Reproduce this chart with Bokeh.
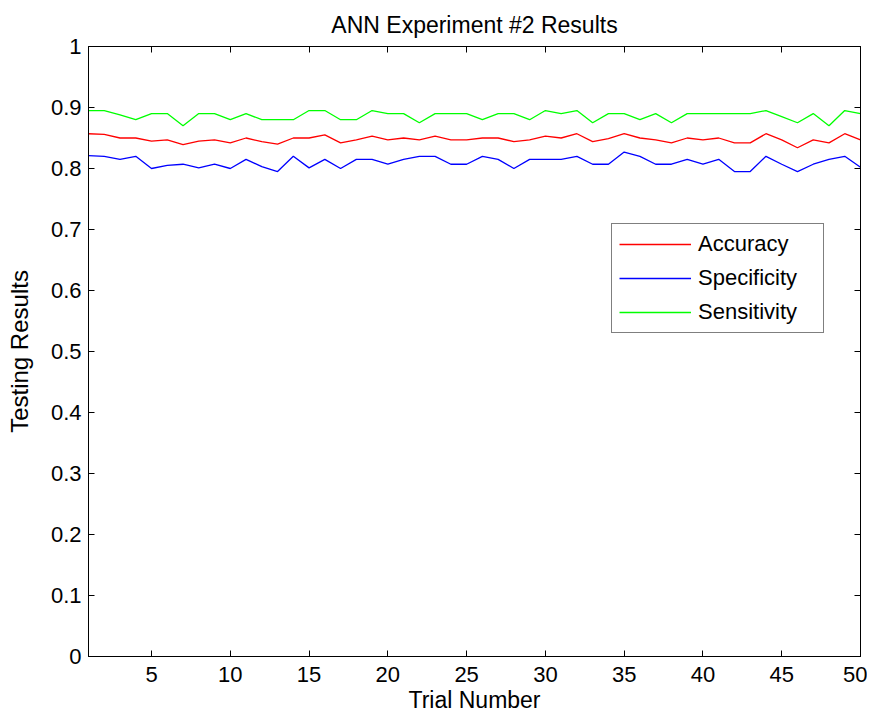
from bokeh.plotting import figure
from bokeh.models import LinearAxis, FixedTicker, Range1d, Legend, LegendItem
from bokeh.embed import file_html
from bokeh.resources import INLINE

trials = list(range(1, 51))
accuracy = [0.857, 0.856, 0.850, 0.850, 0.845, 0.847, 0.839, 0.845, 0.847, 0.842,
            0.850, 0.844, 0.840, 0.850, 0.850, 0.855, 0.842, 0.847, 0.853, 0.847,
            0.850, 0.847, 0.853, 0.847, 0.847, 0.850, 0.850, 0.844, 0.847, 0.853,
            0.850, 0.857, 0.844, 0.849, 0.857, 0.850, 0.847, 0.842, 0.850, 0.847,
            0.850, 0.842, 0.842, 0.857, 0.847, 0.834, 0.847, 0.842, 0.857, 0.847]
specificity = [0.821, 0.820, 0.815, 0.820, 0.800, 0.805, 0.807, 0.801, 0.807, 0.800,
               0.815, 0.803, 0.795, 0.820, 0.801, 0.815, 0.800, 0.815, 0.815, 0.807,
               0.815, 0.820, 0.820, 0.807, 0.807, 0.820, 0.815, 0.800, 0.815, 0.815,
               0.815, 0.820, 0.807, 0.807, 0.827, 0.820, 0.807, 0.807, 0.815, 0.807,
               0.815, 0.795, 0.795, 0.820, 0.807, 0.795, 0.807, 0.815, 0.820, 0.802]
sensitivity = [0.895, 0.895, 0.888, 0.880, 0.890, 0.890, 0.870, 0.890, 0.890, 0.880,
               0.890, 0.880, 0.880, 0.880, 0.895, 0.895, 0.880, 0.880, 0.895, 0.890,
               0.890, 0.875, 0.890, 0.890, 0.890, 0.880, 0.890, 0.890, 0.880, 0.895,
               0.890, 0.895, 0.875, 0.890, 0.890, 0.880, 0.890, 0.875, 0.890, 0.890,
               0.890, 0.890, 0.890, 0.895, 0.885, 0.875, 0.890, 0.870, 0.895, 0.890]

series_names = ["Accuracy", "Specificity", "Sensitivity"]
series_colors = ["#ff0000", "#0000ff", "#00ff00"]

x_ticks = [5, 10, 15, 20, 25, 30, 35, 40, 45, 50]
y_ticks = [0, 0.1, 0.2, 0.3, 0.4, 0.5, 0.6, 0.7, 0.8, 0.9, 1]
y_tick_labels = ["0", "0.1", "0.2", "0.3", "0.4", "0.5", "0.6", "0.7", "0.8", "0.9", "1"]

FONT = "Liberation Sans"

p = figure(width=867, height=717, output_backend="svg", toolbar_location=None,
           x_range=Range1d(1, 50), y_range=Range1d(0, 1),
           min_border_left=88, min_border_right=7, min_border_top=46, min_border_bottom=61,
           title="ANN Experiment #2 Results")
p.background_fill_color = "white"
p.border_fill_color = "white"
p.outline_line_color = "black"
p.grid.visible = False

p.title.align = "center"
p.title.text_font = FONT
p.title.text_font_size = "23px"
p.title.text_font_style = "normal"
p.title.text_color = "black"
p.title.standoff = 18

def style_axis(ax, ticks, show_labels):
    ax.ticker = FixedTicker(ticks=ticks)
    ax.major_tick_in = 6
    ax.major_tick_out = 0
    ax.minor_tick_line_color = None
    ax.axis_line_color = "black"
    ax.major_tick_line_color = "black"
    ax.major_label_text_font = FONT
    ax.major_label_text_color = "black"
    ax.axis_label_text_font = FONT
    ax.axis_label_text_font_style = "normal"
    ax.axis_label_text_color = "black"
    if show_labels:
        ax.major_label_text_font_size = "22px"
    else:
        ax.major_label_text_font_size = "1px"
        ax.major_label_text_color = None
        ax.major_label_standoff = 0

xa = p.xaxis[0]
style_axis(xa, x_ticks, True)
xa.axis_label = "Trial Number"
xa.axis_label_text_font_size = "23px"
xa.major_label_standoff = 10
xa.axis_label_standoff = 2

ya = p.yaxis[0]
style_axis(ya, y_ticks, True)
ya.axis_label = "Testing Results"
ya.axis_label_text_font_size = "24px"
ya.major_label_standoff = 7
ya.axis_label_standoff = 15
ya.major_label_overrides = {t: l for t, l in zip(y_ticks, y_tick_labels)}

top_ax = LinearAxis()
style_axis(top_ax, x_ticks, False)
p.add_layout(top_ax, "above")
right_ax = LinearAxis()
style_axis(right_ax, y_ticks, False)
p.add_layout(right_ax, "right")

renderers = []
for ys, col in zip([accuracy, specificity, sensitivity], series_colors):
    r = p.line(trials, ys, line_color=col, line_width=1.3)
    renderers.append(r)

legend = Legend(items=[LegendItem(label=n, renderers=[r]) for n, r in zip(series_names, renderers)],
                location=(523, 323))
legend.border_line_color = "black"
legend.border_line_width = 1.3
legend.background_fill_color = "white"
legend.background_fill_alpha = 1
legend.padding = 7
legend.spacing = 8
legend.margin = 0
legend.glyph_width = 72
legend.glyph_height = 22
legend.label_height = 22
legend.label_width = 118
legend.label_standoff = 7
legend.label_text_font = FONT
legend.label_text_font_size = "22px"
legend.label_text_color = "black"
p.add_layout(legend)

open("out.html", "w").write(file_html(p, INLINE))
